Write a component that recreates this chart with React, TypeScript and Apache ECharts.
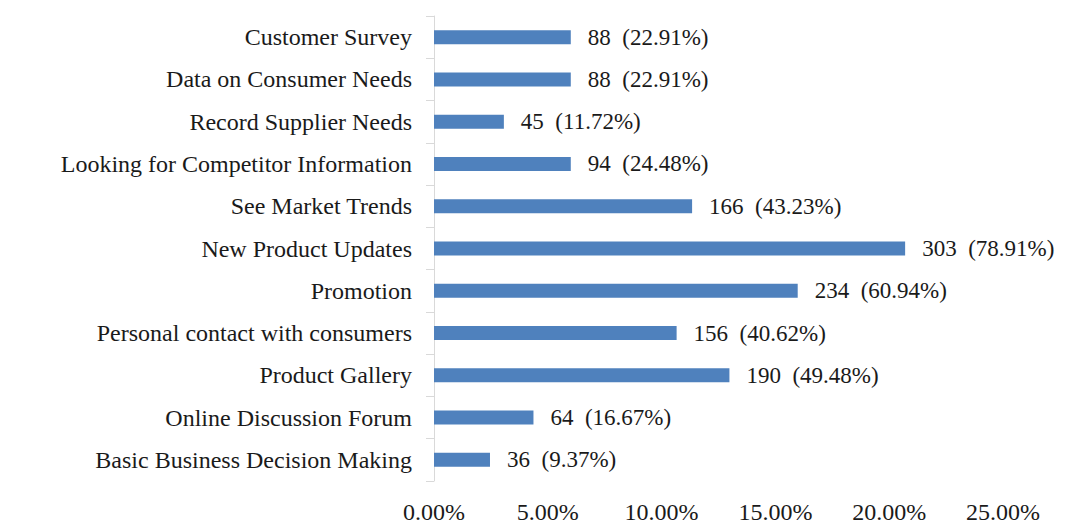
import React, { useEffect, useRef } from "react";
import * as echarts from "echarts";

// Categories, top to bottom as shown
const categories = [
  "Customer Survey",
  "Data on Consumer Needs",
  "Record Supplier Needs",
  "Looking for Competitor Information",
  "See Market Trends",
  "New Product Updates",
  "Promotion",
  "Personal contact with consumers",
  "Product Gallery",
  "Online Discussion Forum",
  "Basic Business Decision Making",
];

// Bar lengths as read on the percentage axis (%)
const barShares = [6.01, 6.01, 3.07, 6.01, 11.34, 20.7, 15.98, 10.66, 12.98, 4.37, 2.46];

// Value labels
const counts = [88, 88, 45, 94, 166, 303, 234, 156, 190, 64, 36];
const percentLabels = [
  "22.91%", "22.91%", "11.72%", "24.48%", "43.23%", "78.91%",
  "60.94%", "40.62%", "49.48%", "16.67%", "9.37%",
];

// X axis ticks
const xMin = 0;
const xMax = 25;
const xStep = 5;

const FONT = "'Liberation Serif', 'Times New Roman', serif";

export default function App() {
  const ref = useRef<HTMLDivElement>(null);

  useEffect(() => {
    if (!ref.current) return;
    const chart = echarts.init(ref.current, undefined, { renderer: "svg" });
    chart.setOption({
      animation: false,
      backgroundColor: "#ffffff",
      grid: { left: 434, right: 63, top: 16, bottom: 44, containLabel: false },
      xAxis: {
        type: "value",
        min: xMin,
        max: xMax,
        interval: xStep,
        axisLine: { show: false },
        axisTick: { show: false },
        splitLine: { show: false },
        axisLabel: {
          formatter: (v: number) => `${v.toFixed(2)}%`,
          fontFamily: FONT,
          fontSize: 24,
          color: "#1a1a1a",
          margin: 19,
        },
      },
      yAxis: {
        type: "category",
        inverse: true,
        data: categories,
        axisLine: { show: true, lineStyle: { color: "#d9d9d9", width: 1 } },
        axisTick: { show: true, length: 8, lineStyle: { color: "#d9d9d9" } },
        splitLine: { show: false },
        axisLabel: {
          fontFamily: FONT,
          fontSize: 24,
          color: "#1a1a1a",
          margin: 22,
        },
      },
      series: [
        {
          type: "bar",
          data: barShares,
          barWidth: 14,
          itemStyle: { color: "#4f81bd" },
          label: {
            show: true,
            position: "right",
            distance: 17,
            fontFamily: FONT,
            fontSize: 23,
            color: "#1a1a1a",
            formatter: (p: any) => `${counts[p.dataIndex]}  (${percentLabels[p.dataIndex]})`,
          },
        },
      ],
    });
    return () => chart.dispose();
  }, []);

  return (
    <div
      ref={ref}
      style={{ position: "fixed", left: 0, top: 0, width: 1066, height: 525, background: "#fff" }}
    />
  );
}
